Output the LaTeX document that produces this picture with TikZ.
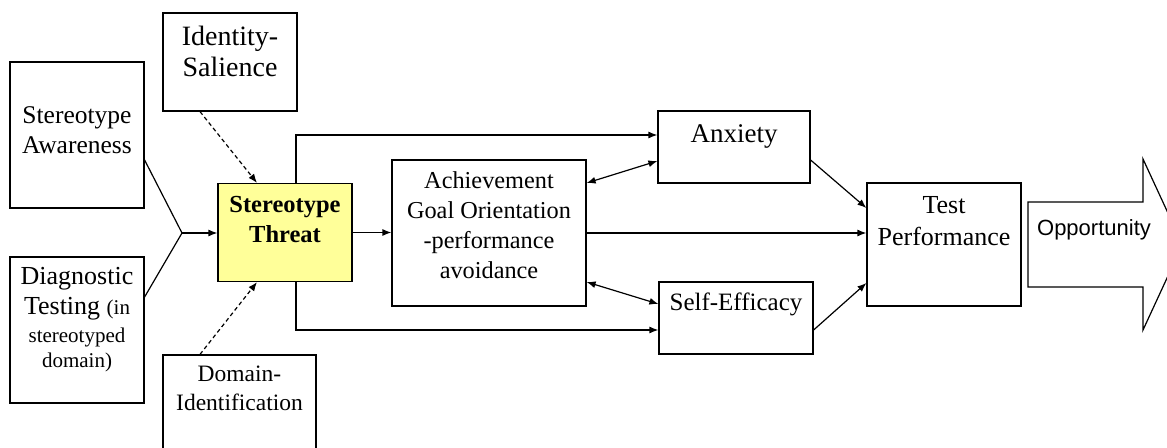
\documentclass[tikz,border=0pt]{standalone}
\usepackage{fontspec}
\setmainfont{Liberation Serif}
\newfontfamily\arialfont{Liberation Sans}
\usetikzlibrary{calc,arrows.meta}
\tikzset{
  box/.style={draw, line width=1.2pt, inner sep=0pt, rectangle},
  lbl/.style={inner sep=0pt, align=center, anchor=north},
  arr/.style={line width=1.2pt, -{Latex[length=9pt,width=7pt]}},
  darr/.style={line width=1.2pt, {Latex[length=9pt,width=7pt]}-{Latex[length=9pt,width=7pt]}},
  dash arr/.style={line width=1.2pt, dashed, dash pattern=on 4pt off 3pt, -{Latex[length=9pt,width=7pt]}},
  plainline/.style={line width=1.2pt}
}
\newcommand{\fs}[2]{\fontsize{#1}{#2}\selectfont}
\begin{document}
\begin{tikzpicture}[x=1pt,y=-1pt]
\useasboundingbox (0,0) rectangle (1167,447);
\fill[white] (0,0) rectangle (1167,447);
% boxes
\node[box, minimum width=134pt, minimum height=146pt] (sa) at (77,135) {};
\node[box, minimum width=134pt, minimum height=146pt] (dt) at (77,330) {};
\node[box, minimum width=134pt, minimum height=98pt] (is) at (230,62) {};
\node[box, fill={rgb,255:red,255;green,255;blue,153}, minimum width=134pt, minimum height=98pt] (st) at (285,232.5) {};
\node[box, minimum width=153pt, minimum height=110pt] (ds) at (239.5,410) {};
\node[box, minimum width=194pt, minimum height=146pt] (ach) at (489,233) {};
\node[box, minimum width=152pt, minimum height=72pt] (anx) at (734,147) {};
\node[box, minimum width=154pt, minimum height=72pt] (se) at (736,318) {};
\node[box, minimum width=154pt, minimum height=123pt] (tp) at (944,244.5) {};
% labels
\node[lbl, font={\fs{25.5}{30}}] (saT) at (77,106) {Stereotype\\Awareness};
\node[lbl, font={\fs{26}{30}}] (dtT) at (77,267) {Diagnostic\\Testing {\fs{21}{26}(in}\\[-2pt]{\fs{21}{26}stereotyped}\\[-5pt]{\fs{21}{26}domain)}};
\node[lbl, font={\fs{28}{31}}] (isT) at (230,26) {Identity-\\Salience};
\node[lbl, font={\fs{24.5}{30}\bfseries}] (stT) at (285,196) {Stereotype\\Threat};
\node[lbl, font={\fs{23.5}{29}}] (dsT) at (239.5,366) {Domain-\\Identification};
\node[lbl, font={\fs{24.3}{30}}] (achT) at (489,171) {Achievement\\Goal Orientation\\-performance\\avoidance};
\node[lbl, font={\fs{27}{32}}] (anxT) at (734,124) {Anxiety};
\node[lbl, font={\fs{25}{30}}] (seT) at (736,293) {Self-Efficacy};
\node[lbl, font={\fs{26}{32}}] (tpT) at (944,196) {Test\\Performance};
% opportunity arrow
\draw[line width=1.2pt] (1028,202) coordinate (o1) -- (1143,202) -- (1143,159) -- (1182.5,244.5) coordinate (otip) -- (1143,330) -- (1143,287) -- (1028,287) -- cycle;
\node[inner sep=0pt, font={\arialfont\fs{22}{26}}] (opp) at (1094,230) {Opportunity};
% connectors
\coordinate (j) at (182,233);
\draw[plainline] ($(sa.east)+(0,25)$) -- (j);
\draw[plainline] ($(dt.east)+(0,-33)$) -- (j);
\draw[arr] (j) -- (j -| st.west);
\draw[dash arr] ($(is.south)+(-30,0)$) -- ($(st.north)+(-28,0)$);
\draw[dash arr] ($(ds.north)+(-39.5,0)$) -- ($(st.south)+(-28,0)$);
\draw[arr] (st.east) -- (st.east -| ach.west);
\draw[arr] ($(st.north)+(11,0)$) |- ($(anx.west)+(0,-12)$);
\draw[arr] ($(st.south)+(11,0)$) |- ($(se.west)+(0,12)$);
\draw[darr] ($(ach.east)+(0,-50)$) -- ($(anx.west)+(0,14)$);
\draw[darr] ($(ach.east)+(0,49)$) -- ($(se.west)+(0,-14)$);
\draw[arr] (ach.east) -- (ach.east -| tp.west);
\draw[arr] ($(anx.east)+(0,13)$) -- ($(tp.west)+(0,-36.5)$);
\draw[arr] ($(se.east)+(0,12)$) -- ($(tp.west)+(0,38.5)$);
\end{tikzpicture}
\end{document}
